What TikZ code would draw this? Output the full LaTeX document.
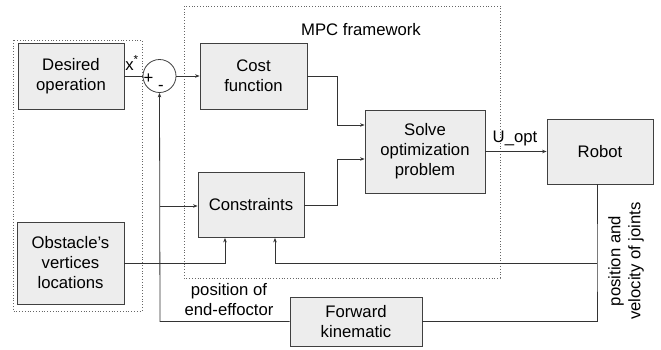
\documentclass[tikz,border=0pt]{standalone}
\usepackage{fontspec}
\setmainfont{Liberation Sans}
\usetikzlibrary{arrows.meta}
\begin{document}
\begin{tikzpicture}[x=1pt,y=-1pt,
  every node/.style={font=\fontsize{16.7}{20}\selectfont, inner sep=0pt},
  blk/.style={draw=black!75, fill=black!7, line width=0.8pt, align=center},
  conn/.style={draw=black!80, line width=0.8pt},
  arr/.style={conn, -{Stealth[length=4.5pt,width=3.5pt]}},
  grp/.style={draw=black!60, dotted, line width=0.8pt}]
\useasboundingbox (0,0) rectangle (661,349);
% dotted groups
\draw[grp] (13,40) rectangle (142,311);
\draw[grp] (184,6) rectangle (500,278);
% blocks
\node[blk, minimum width=106pt, minimum height=66pt] (des) at (71,76) {Desired\\operation};
\node[draw=black!75, line width=0.8pt, circle, minimum size=33pt] (sum) at (159.5,76) {};
\node[blk, minimum width=107pt, minimum height=66pt] (cost) at (253.5,76) {Cost\\function};
\node[blk, minimum width=120pt, minimum height=83pt] (solve) at (425,151.5) {Solve\\optimization\\problem};
\node[blk, minimum width=106pt, minimum height=65pt] (robot) at (600,151.5) {Robot};
\node[blk, minimum width=106pt, minimum height=65pt] (cons) at (251,205) {Constraints};
\node[blk, minimum width=107pt, minimum height=82pt] (obs) at (70.5,263) {Obstacle’s\\vertices\\locations};
\node[blk, minimum width=132pt, minimum height=49pt] (fk) at (356,321.5) {Forward\\kinematic};
% labels
\node (xs) at (132,63) {x\textsuperscript{*}};
\node (plus) at (148.5,79) {+};
\node (minus) at (161,88) {-};
\node (mpc) at (361,30) {MPC framework};
\node (uopt) at (515,138) {U\_opt};
\node[align=center] (pee) at (229,300) {position of\\end-effoctor};
\node[align=center, rotate=90] (pvj) at (626,261) {position and\\velocity of joints};
% connectors
\coordinate (c1) at (337,76);
\coordinate (c2) at (337,205);
\coordinate (j1) at (597,263);
\coordinate (j2) at (160,321.5);
\coordinate (j3) at (160,206);
\coordinate (o1) at (225,263);
\draw[conn] (des.east) -- (sum.west);
\draw[arr] (sum.east) -- (cost.west);
\draw[arr] (cost.east) -- (c1) |- ([yshift=26.5pt]solve.west);
\draw[arr] (cons.east) -- (c2) |- ([yshift=-7.5pt]solve.west);
\draw[arr] (solve.east) -- (robot.west);
\draw[conn] ([xshift=-3pt]robot.south) -- (j1) -- ([xshift=-3pt]robot.south |- fk.east) -- (fk.east);
\draw[arr] (j1) -| ([xshift=24pt]cons.south);
\draw[arr] (obs.east) -- (o1) -- (o1 |- cons.south);
\draw[arr] (fk.west) -- (j2) -- (sum.south);
\draw[arr] (j3) -- (j3 -| cons.west);
\end{tikzpicture}
\end{document}
